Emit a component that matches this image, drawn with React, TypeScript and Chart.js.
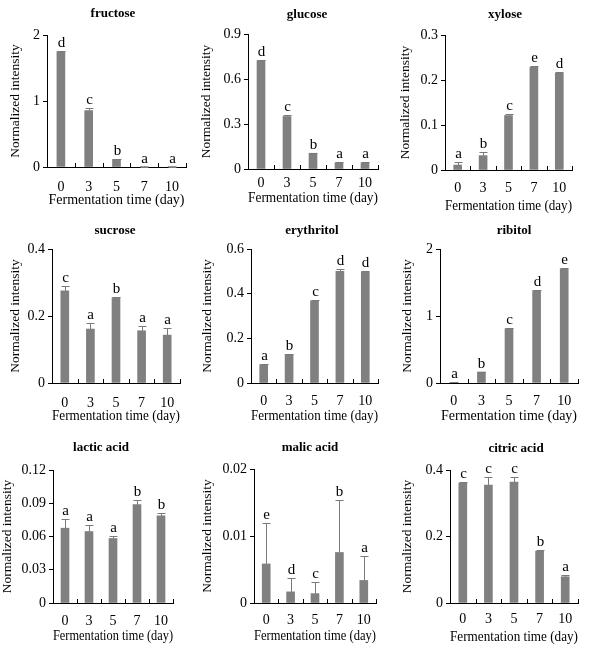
import React, { useEffect, useRef } from 'react';
import { Chart, registerables } from 'chart.js';

Chart.register(...registerables);

const SERIF = "'Liberation Serif', 'Times New Roman', serif";
const BAR_COLOR = '#808080';
const ERR_COLOR = '#7a7a7a';

// Fermentation days (category axis)
const DAYS = ['0', '3', '5', '7', '10'];

// Sugars
const FRUCTOSE = [1.75, 0.855, 0.115, 0.006, 0.005];
const FRUCTOSE_SD = [0.01, 0.04, 0.005, 0.001, 0.001];
const FRUCTOSE_GROUPS = ['d', 'c', 'b', 'a', 'a'];
const FRUCTOSE_TICKS = [0, 1, 2];

const GLUCOSE = [0.722, 0.35, 0.105, 0.042, 0.042];
const GLUCOSE_SD = [0.004, 0.01, 0.003, 0.002, 0.002];
const GLUCOSE_GROUPS = ['d', 'c', 'b', 'a', 'a'];
const GLUCOSE_TICKS = [0, 0.3, 0.6, 0.9];

const XYLOSE = [0.011, 0.032, 0.121, 0.228, 0.215];
const XYLOSE_SD = [0.006, 0.008, 0.003, 0.002, 0.003];
const XYLOSE_GROUPS = ['a', 'b', 'c', 'e', 'd'];
const XYLOSE_TICKS = [0, 0.1, 0.2, 0.3];

const SUCROSE = [0.275, 0.161, 0.254, 0.156, 0.143];
const SUCROSE_SD = [0.015, 0.018, 0.004, 0.014, 0.02];
const SUCROSE_GROUPS = ['c', 'a', 'b', 'a', 'a'];
const SUCROSE_TICKS = [0, 0.2, 0.4];

// Sugar alcohols
const ERYTHRITOL = [0.082, 0.128, 0.368, 0.5, 0.497];
const ERYTHRITOL_SD = [0.002, 0.002, 0.002, 0.01, 0.005];
const ERYTHRITOL_GROUPS = ['a', 'b', 'c', 'd', 'd'];
const ERYTHRITOL_TICKS = [0, 0.2, 0.4, 0.6];

const RIBITOL = [0.01, 0.164, 0.81, 1.38, 1.7];
const RIBITOL_SD = [0.002, 0.005, 0.005, 0.015, 0.015];
const RIBITOL_GROUPS = ['a', 'b', 'c', 'd', 'e'];
const RIBITOL_TICKS = [0, 1, 2];

// Organic acids
const LACTIC = [0.0675, 0.0645, 0.0582, 0.0888, 0.0786];
const LACTIC_SD = [0.0087, 0.006, 0.002, 0.0042, 0.0027];
const LACTIC_GROUPS = ['a', 'a', 'a', 'b', 'b'];
const LACTIC_TICKS = [0, 0.03, 0.06, 0.09, 0.12];

const MALIC = [0.00583, 0.00166, 0.0014, 0.00754, 0.00337];
const MALIC_SD = [0.0061, 0.002, 0.0017, 0.0079, 0.0037];
const MALIC_GROUPS = ['e', 'd', 'c', 'b', 'a'];
const MALIC_TICKS = [0, 0.01, 0.02];

const CITRIC = [0.361, 0.355, 0.364, 0.156, 0.079];
const CITRIC_SD = [0.004, 0.023, 0.016, 0.002, 0.004];
const CITRIC_GROUPS = ['c', 'c', 'c', 'b', 'a'];
const CITRIC_TICKS = [0, 0.2, 0.4];

type Spec = { name: string; values: number[]; sd: number[]; groups: string[]; ticks: number[] };

const SPECS: Spec[] = [
  { name: 'fructose', values: FRUCTOSE, sd: FRUCTOSE_SD, groups: FRUCTOSE_GROUPS, ticks: FRUCTOSE_TICKS },
  { name: 'glucose', values: GLUCOSE, sd: GLUCOSE_SD, groups: GLUCOSE_GROUPS, ticks: GLUCOSE_TICKS },
  { name: 'xylose', values: XYLOSE, sd: XYLOSE_SD, groups: XYLOSE_GROUPS, ticks: XYLOSE_TICKS },
  { name: 'sucrose', values: SUCROSE, sd: SUCROSE_SD, groups: SUCROSE_GROUPS, ticks: SUCROSE_TICKS },
  { name: 'erythritol', values: ERYTHRITOL, sd: ERYTHRITOL_SD, groups: ERYTHRITOL_GROUPS, ticks: ERYTHRITOL_TICKS },
  { name: 'ribitol', values: RIBITOL, sd: RIBITOL_SD, groups: RIBITOL_GROUPS, ticks: RIBITOL_TICKS },
  { name: 'lactic acid', values: LACTIC, sd: LACTIC_SD, groups: LACTIC_GROUPS, ticks: LACTIC_TICKS },
  { name: 'malic acid', values: MALIC, sd: MALIC_SD, groups: MALIC_GROUPS, ticks: MALIC_TICKS },
  { name: 'citric acid', values: CITRIC, sd: CITRIC_SD, groups: CITRIC_GROUPS, ticks: CITRIC_TICKS },
];

// Page layout of each panel: plot area edges, y-title centre, panel-title centre,
// offset of x tick labels and x title below the axis.
type Box = {
  left: number; right: number; top: number; bottom: number;
  ax: number; tx: number; ty: number; lp: number; tt: number;
};

const BOXES: Box[] = [
  { left: 47, right: 186, top: 35, bottom: 167, ax: 15, tx: 113, ty: 14, lp: 20.7, tt: 34 },
  { left: 248, right: 378, top: 34, bottom: 169, ax: 206, tx: 307, ty: 15, lp: 14.5, tt: 29.5 },
  { left: 445, right: 572, top: 35, bottom: 170, ax: 405, tx: 505, ty: 15, lp: 18.3, tt: 36.5 },
  { left: 52, right: 180, top: 249, bottom: 383, ax: 15, tx: 115, ty: 231, lp: 20, tt: 34 },
  { left: 251, right: 378, top: 249, bottom: 383, ax: 207, tx: 312, ty: 231, lp: 18.3, tt: 33.3 },
  { left: 440, right: 578, top: 249, bottom: 383, ax: 407, tx: 514, ty: 231, lp: 18.3, tt: 33.3 },
  { left: 53, right: 173, top: 470, bottom: 603, ax: 7.3, tx: 101, ty: 448, lp: 18.3, tt: 33.3 },
  { left: 254, right: 376, top: 469, bottom: 603, ax: 207, tx: 310, ty: 448, lp: 17.3, tt: 33.3 },
  { left: 450, right: 578, top: 470, bottom: 603, ax: 407, tx: 516, ty: 449, lp: 16.7, tt: 35 },
];

function Panel({ spec, box }: { spec: Spec; box: Box }) {
  const ref = useRef<HTMLCanvasElement>(null);

  const padRight = 14;
  const cl = Math.round(box.ax - 8.1);
  const ct = Math.round(box.ty - 12);
  const yw = box.left - cl;
  const padTop = box.top - ct;
  const plotW = box.right - box.left;
  const plotH = box.bottom - box.top;
  const W = yw + plotW + padRight;
  const H = Math.round(padTop + plotH + box.tt + 8.4);
  const xh = H - padTop - plotH;

  useEffect(() => {
    if (!ref.current) return;
    const n = DAYS.length;
    const maxTick = spec.ticks[spec.ticks.length - 1];

    const decor = {
      id: 'decor',
      afterDatasetsDraw(chart: any) {
        const ctx = chart.ctx as CanvasRenderingContext2D;
        const xs = chart.scales.x;
        const ys = chart.scales.y;
        const bottom = chart.chartArea.bottom;
        ctx.save();

        // inward tick marks between categories
        ctx.strokeStyle = '#000';
        ctx.lineWidth = 1;
        for (let i = 0; i <= n; i++) {
          const x = Math.round(xs.getPixelForValue(i - 0.5)) + 0.5;
          ctx.beginPath();
          ctx.moveTo(x, bottom);
          ctx.lineTo(x, bottom - 4);
          ctx.stroke();
        }

        // upper error bars and significance letters
        spec.values.forEach((v, i) => {
          const x = Math.round(xs.getPixelForValue(i)) + 0.5;
          const y0 = ys.getPixelForValue(v);
          const y1 = Math.round(ys.getPixelForValue(v + spec.sd[i])) + 0.5;
          ctx.strokeStyle = ERR_COLOR;
          ctx.beginPath();
          ctx.moveTo(x, y0);
          ctx.lineTo(x, y1);
          ctx.moveTo(x - 4, y1);
          ctx.lineTo(x + 4, y1);
          ctx.stroke();

          ctx.fillStyle = '#000';
          ctx.font = `15px ${SERIF}`;
          ctx.textAlign = 'center';
          ctx.textBaseline = 'alphabetic';
          ctx.fillText(spec.groups[i], x, y1 - 4.5);
        });

        // panel title
        ctx.fillStyle = '#000';
        ctx.font = `bold 13px ${SERIF}`;
        ctx.textAlign = 'center';
        ctx.textBaseline = 'middle';
        ctx.fillText(spec.name, box.tx - cl, box.ty - ct);
        ctx.restore();
      },
    };

    const chart = new Chart(ref.current, {
      type: 'bar',
      data: {
        labels: DAYS,
        datasets: [
          {
            data: spec.values,
            backgroundColor: BAR_COLOR,
            borderWidth: 0,
            barThickness: 8,
          },
        ],
      },
      options: {
        animation: false,
        responsive: false,
        devicePixelRatio: 1,
        layout: { padding: { left: 0, top: padTop, right: padRight, bottom: 0 } },
        plugins: {
          legend: { display: false },
          tooltip: { enabled: false },
          title: { display: false },
        },
        scales: {
          x: {
            grid: { display: false, drawTicks: false, tickLength: 0 },
            border: { display: true, color: '#000', width: 1 },
            ticks: {
              color: '#000',
              font: { family: SERIF, size: 14 },
              padding: box.lp - 8.4,
              maxRotation: 0,
              autoSkip: false,
            },
            title: {
              display: true,
              text: 'Fermentation time (day)',
              color: '#000',
              font: { family: SERIF, size: 14 },
              padding: 0,
            },
            afterFit: (s: any) => {
              s.height = xh;
            },
          },
          y: {
            min: 0,
            max: maxTick,
            afterBuildTicks: (s: any) => {
              s.ticks = spec.ticks.map((v) => ({ value: v }));
            },
            grid: {
              display: true,
              drawOnChartArea: false,
              drawTicks: true,
              tickLength: 4,
              color: '#000',
              lineWidth: 1,
            },
            border: { display: true, color: '#000', width: 1 },
            ticks: {
              color: '#000',
              font: { family: SERIF, size: 14 },
              padding: 3,
              autoSkip: false,
              callback: (v: any) => String(v),
            },
            title: {
              display: true,
              text: 'Normalized intensity',
              color: '#000',
              font: { family: SERIF, size: 13.5 },
              padding: 0,
            },
            afterFit: (s: any) => {
              s.width = yw;
            },
          },
        },
      },
      plugins: [decor],
    } as any);

    return () => chart.destroy();
  }, [spec, box]);

  return (
    <canvas
      ref={ref}
      width={W}
      height={H}
      style={{ position: 'absolute', left: cl, top: ct, width: W, height: H }}
    />
  );
}

export default function App() {
  return (
    <div
      style={{
        position: 'absolute',
        left: 0,
        top: 0,
        width: 589,
        height: 650,
        background: '#fff',
        overflow: 'hidden',
      }}
    >
      {SPECS.map((s, i) => (
        <Panel key={s.name} spec={s} box={BOXES[i]} />
      ))}
    </div>
  );
}
